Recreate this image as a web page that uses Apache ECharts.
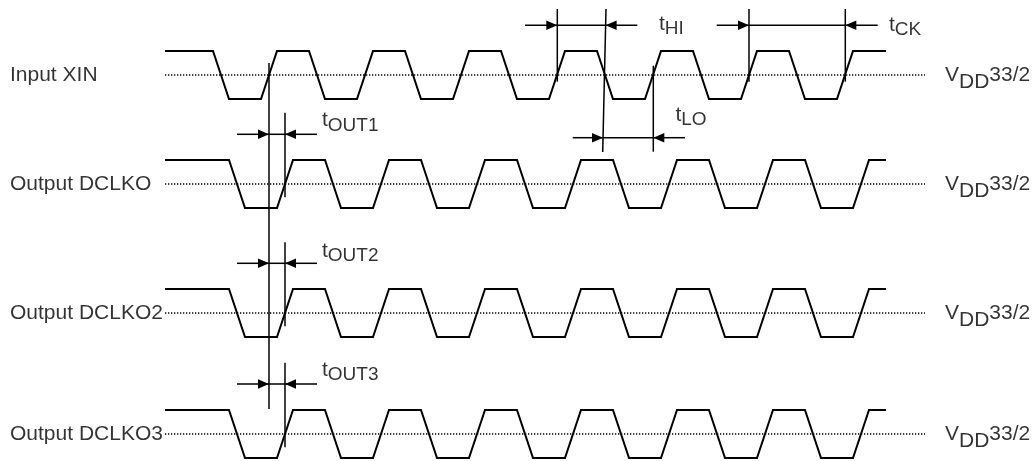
<!DOCTYPE html>
<html><head><meta charset="utf-8">
<script src="https://cdn.jsdelivr.net/npm/echarts@6/dist/echarts.min.js"></script>
<style>html,body{margin:0;padding:0;background:#fff}#c{width:1035px;height:461px}</style>
</head><body><div id="c"></div>
<script>
// ---- data (time units on a shared time axis) ----
const signalNames = ['Input XIN', 'Output DCLKO', 'Output DCLKO2', 'Output DCLKO3'];
// start time of each transition, alternating falling / rising (signal starts high)
const xinEdges = [213, 261, 309, 357, 405, 453, 501, 549, 597, 645, 693, 741, 789, 837];
const outEdges = [229, 277, 325, 373, 421, 469, 517, 565, 613, 661, 709, 757, 805, 853];
const signalEdges = [xinEdges, outEdges, outEdges, outEdges];
const edgeDuration = 16;
const traceStart = 165, traceEnd = 886;
const thresholdStart = 165, thresholdEnd = 925;
const thresholdText = ['V', 'DD', '33/2'];
const timingNames = ['OUT1', 'OUT2', 'OUT3', 'HI', 'LO', 'CK'];

// ---- layout ----
const laneTop = [51, 160, 289, 410];
const swing = 48;
const FONT = "'Liberation Sans', Arial, sans-serif";

function levelY(lane, level) { return laneTop[lane] + (1 - level) * swing; }

const series = [];
signalEdges.forEach((edges, lane) => {
  const pts = [[traceStart, levelY(lane, 1)]];
  let lvl = 1;
  edges.forEach(t => {
    const nl = 1 - lvl;
    pts.push([t, levelY(lane, lvl)]);
    pts.push([t + edgeDuration, levelY(lane, nl)]);
    lvl = nl;
  });
  pts.push([traceEnd, levelY(lane, lvl)]);
  const th = laneTop[lane] + swing / 2;
  series.push({
    type: 'line', data: [[thresholdStart, th], [thresholdEnd, th]], symbol: 'none', silent: true,
    lineStyle: { color: '#000', width: 1.3, type: [1.3, 1.7] }, z: 1
  });
  series.push({
    type: 'line', data: pts, symbol: 'none', silent: true,
    lineStyle: { color: '#000', width: 2, join: 'miter' }, z: 3
  });
});

// reference lines and dimension arrows: [x1, y1, x2, y2, arrowheadAtEnd]
const refLines = [
  [269, 63, 269, 409, 0],
  [285, 112.7, 285, 197.3, 0],
  [285, 242.3, 285, 326.3, 0],
  [285, 362.7, 285, 447.3, 0],
  [557.3, 9, 557.3, 81.7, 0],
  [606, 9, 602.7, 152, 0],
  [653.3, 65.7, 653.3, 151.7, 0],
  [749, 9, 749, 81.7, 0],
  [845.3, 9, 845.3, 81.7, 0]
];
function dim(y, xl, a, b, xr) {
  return [[xl, y, a, y, 1], [a, y, b, y, 0], [xr, y, b, y, 1]];
}
const dimLines = [].concat(
  dim(134.3, 237, 269, 285, 317),
  dim(263.3, 237, 269, 285, 317),
  dim(384, 237, 269, 285, 317),
  dim(25.3, 525, 557.3, 605.6, 637.3),
  dim(137.7, 572.7, 603, 653.3, 685),
  dim(25.3, 716.7, 749, 845.3, 877.7)
);
series.push({
  type: 'custom', silent: true, z: 4,
  data: refLines.concat(dimLines),
  renderItem: function (params, api) {
    const p1 = api.coord([api.value(0), api.value(1)]);
    const p2 = api.coord([api.value(2), api.value(3)]);
    const children = [{
      type: 'line', shape: { x1: p1[0], y1: p1[1], x2: p2[0], y2: p2[1] },
      style: { stroke: '#000', lineWidth: 1.5 }
    }];
    if (api.value(4)) {
      const dx = p2[0] - p1[0], dy = p2[1] - p1[1];
      const len = Math.sqrt(dx * dx + dy * dy) || 1;
      const ux = dx / len, uy = dy / len;
      const L = 11, W = 4.8;
      const bx = p2[0] - ux * L, by = p2[1] - uy * L;
      children.push({
        type: 'polygon',
        shape: { points: [[p2[0], p2[1]], [bx - uy * W, by + ux * W], [bx + uy * W, by - ux * W]] },
        style: { fill: '#000' }
      });
    }
    return { type: 'group', children: children };
  }
});

// texts
const texts = [];
function txt(x, y, s, size) {
  texts.push({ value: [x, y], label: { formatter: s, fontSize: size } });
}
signalNames.forEach((n, lane) => {
  const th = laneTop[lane] + swing / 2;
  txt(10, th, n, 21);
  txt(945, th, thresholdText[0], 21);
  txt(959, th + 7.7, thresholdText[1], 21);
  txt(989.3, th, thresholdText[2], 21);
});
const timingPos = [[322, 125.3], [322, 255.8], [322, 375], [659, 29.2], [675.5, 120], [889, 29.8]];
timingNames.forEach((n, i) => {
  const p = timingPos[i];
  txt(p[0], p[1] - 5, 't', 21);
  txt(p[0] + 5.8, p[1], n, 19);
});
series.push({
  type: 'scatter', data: texts, symbolSize: 0, silent: true, z: 5,
  label: { show: true, position: 'right', distance: 0, color: '#000', fontFamily: FONT }
});

const chart = echarts.init(document.getElementById('c'), null, { renderer: 'canvas' });
chart.setOption({
  animation: false,
  backgroundColor: '#fff',
  grid: { left: 0, right: 0, top: 0, bottom: 0 },
  xAxis: { type: 'value', min: 0, max: 1035, show: false },
  yAxis: { type: 'value', min: 0, max: 461, inverse: true, show: false },
  series: series
});
</script>
</body></html>
